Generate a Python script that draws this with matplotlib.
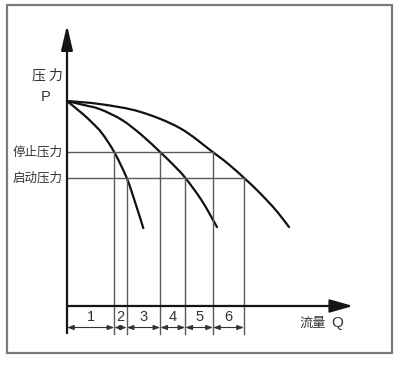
import matplotlib
matplotlib.use("Agg")
import matplotlib.pyplot as plt
from matplotlib.patches import Rectangle, PathPatch
from matplotlib.path import Path

plt.rcParams['font.family'] = ['Noto Sans CJK SC', 'DejaVu Sans']

# Pump performance curves: flow Q vs pressure P (three pump configurations)
shutoff_p = 4.0
stop_p = 3.0
start_p = 2.5

curve1_q = [0, 1.5, 2.5, 3.5, 4.73, 5.97, 6.8, 7.63]
curve1_p = [4.0, 3.76, 3.58, 3.37, 3.0, 2.5, 2.03, 1.52]

curve2_q = [0, 1.5, 3.3, 5.5, 7.5, 9.33, 10.6, 11.83, 13.5, 15.0]
curve2_p = [4.0, 3.93, 3.84, 3.63, 3.33, 3.0, 2.76, 2.5, 2.05, 1.54]

curve3_q = [0, 3.3, 7.3, 11.3, 14.6, 16.2, 17.7, 18.9, 20.0, 21.1, 22.2]
curve3_p = [4.0, 3.94, 3.79, 3.47, 3.0, 2.76, 2.5, 2.28, 2.06, 1.82, 1.54]

# Flow at which each curve meets the stop / start pressure
stop_q = [4.73, 9.33, 14.6]
start_q = [5.97, 11.83, 17.7]

zone_labels = ["1", "2", "3", "4", "5", "6"]


def smooth_path(xs, ys):
    """Cubic Bezier path through every point (Catmull-Rom tangents)."""
    pts = list(zip(xs, ys))
    n = len(pts)
    verts = [pts[0]]
    codes = [Path.MOVETO]
    for i in range(n - 1):
        p0 = pts[i - 1] if i > 0 else pts[i]
        p1 = pts[i]
        p2 = pts[i + 1]
        p3 = pts[i + 2] if i + 2 < n else pts[i + 1]
        c1 = (p1[0] + (p2[0] - p0[0]) / 6, p1[1] + (p2[1] - p0[1]) / 6)
        c2 = (p2[0] - (p3[0] - p1[0]) / 6, p2[1] - (p3[1] - p1[1]) / 6)
        verts += [c1, c2, p2]
        codes += [Path.CURVE4] * 3
    return Path(verts, codes)


fig = plt.figure(figsize=(4.04, 3.66), dpi=100)
ax = fig.add_axes([0, 0, 1, 1])
ax.set_xlim(-6.7, 33.7)
ax.set_ylim(-1.171, 5.971)
ax.axis('off')

# frame around the drawing
fig.patches.append(Rectangle((7 / 404, 13 / 366), 385 / 404, 348 / 366,
                             transform=fig.transFigure, fill=False,
                             edgecolor='#7a7a7a', linewidth=1.6))

axis_col = '#151515'
y_bottom = -0.53
# axes with arrow heads
ax.annotate('', xy=(0, 5.48), xytext=(0, y_bottom),
            arrowprops=dict(arrowstyle='-|>,head_length=1.5,head_width=0.35',
                            mutation_scale=10, lw=1.6, color=axis_col,
                            shrinkA=0, shrinkB=0))
ax.annotate('', xy=(28.6, 0), xytext=(0, 0),
            arrowprops=dict(arrowstyle='-|>,head_length=1.4,head_width=0.4',
                            mutation_scale=10, lw=1.6, color=axis_col,
                            shrinkA=0, shrinkB=0))

# stop / start pressure levels
grid_col = '#5a5a5a'
ax.plot([0, max(stop_q)], [stop_p, stop_p], color=grid_col, lw=1.0)
ax.plot([0, max(start_q)], [start_p, start_p], color=grid_col, lw=1.0)
for q in stop_q:
    ax.plot([q, q], [stop_p, y_bottom - 0.02], color=grid_col, lw=1.0)
for q in start_q:
    ax.plot([q, q], [start_p, y_bottom - 0.02], color=grid_col, lw=1.0)

# pump curves
for qs, ps in [(curve1_q, curve1_p), (curve2_q, curve2_p), (curve3_q, curve3_p)]:
    ax.add_patch(PathPatch(smooth_path(qs, ps), facecolor='none',
                           edgecolor='#111111', lw=1.6, capstyle='round'))

# flow zones with dimension arrows
bounds = sorted([0] + stop_q + start_q)
dim_y = -0.42
for i, lab in enumerate(zone_labels):
    a, b = bounds[i], bounds[i + 1]
    ax.annotate('', xy=(b, dim_y), xytext=(a, dim_y),
                arrowprops=dict(arrowstyle='<|-|>,head_length=0.5,head_width=0.18',
                                mutation_scale=8, lw=0.8, color='#333333',
                                shrinkA=0, shrinkB=0))
    ax.text((a + b) / 2, -0.22, lab, ha='center', va='center', fontsize=10.5,
            color='#333333', family=['Liberation Sans', 'DejaVu Sans'])

# text labels
txt_col = '#333333'
ax.text(-0.45, 4.50, "压 力", ha='right', va='center', fontsize=10, color=txt_col)
ax.text(-2.1, 4.08, "P", ha='center', va='center', fontsize=10.5, color=txt_col,
        family=['Liberation Sans', 'DejaVu Sans'])
ax.text(-0.45, stop_p, "停止压力", ha='right', va='center', fontsize=9, color=txt_col)
ax.text(-0.45, start_p, "启动压力", ha='right', va='center', fontsize=9, color=txt_col)
ax.text(23.2, -0.33, "流量", ha='left', va='center', fontsize=9.5, color=txt_col)
ax.text(26.4, -0.33, "Q", ha='left', va='center', fontsize=11, color=txt_col,
        family=['Liberation Sans', 'DejaVu Sans'])

fig.savefig("out.png", dpi=100)
